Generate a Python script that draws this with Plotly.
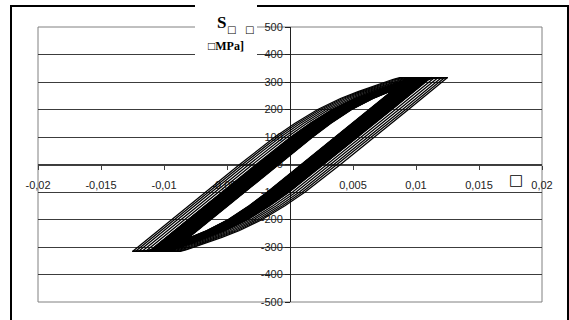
import plotly.graph_objects as go

# ---- data ----
# stress levels shared by every cycle (MPa): loading branch then unloading branch
STRESS_UP = [-316, -200, -100, 0, 100, 150, 200, 240, 265, 285, 300, 310, 316, 316]
STRESS_DOWN = [316, 200, 100, 0, -100, -150, -200, -240, -265, -285, -300, -310, -316, -316]

# strain on the loading branch of each cycle (innermost cycle first)
STRAIN_UP = [
    [-0.0094, -0.00628, -0.00359, -0.0009, 0.0018, 0.00325, 0.0049, 0.0066, 0.0079, 0.0091, 0.0101, 0.0110, 0.0116, 0.0125],
    [-0.00949, -0.00637, -0.00368, -0.00099, 0.00171, 0.00316, 0.00482, 0.00652, 0.00782, 0.00902, 0.01002, 0.01092, 0.01151, 0.01241],
    [-0.00962, -0.0065, -0.00381, -0.00112, 0.00159, 0.00305, 0.00471, 0.00642, 0.00773, 0.00893, 0.00992, 0.0108, 0.0114, 0.01228],
    [-0.00977, -0.00665, -0.00396, -0.00127, 0.00144, 0.00291, 0.00458, 0.00629, 0.0076, 0.0088, 0.00979, 0.01066, 0.01125, 0.01213],
    [-0.00996, -0.00684, -0.00415, -0.00146, 0.00126, 0.00274, 0.00441, 0.00613, 0.00745, 0.00865, 0.00963, 0.0105, 0.01108, 0.01194],
    [-0.01018, -0.00706, -0.00437, -0.00168, 0.00105, 0.00254, 0.00423, 0.00595, 0.00728, 0.00848, 0.00945, 0.0103, 0.01088, 0.01173],
    [-0.01045, -0.00734, -0.00465, -0.00195, 0.00078, 0.00228, 0.00398, 0.00572, 0.00705, 0.00825, 0.00922, 0.01005, 0.01061, 0.01145],
    [-0.0108, -0.00768, -0.00499, -0.0023, 0.00045, 0.00197, 0.00369, 0.00543, 0.00678, 0.00798, 0.00893, 0.00974, 0.0103, 0.01111],
    [-0.0112, -0.00809, -0.00539, -0.0027, 0.00006, 0.0016, 0.00333, 0.00509, 0.00645, 0.00765, 0.00859, 0.00938, 0.00992, 0.0107],
    [-0.01148, -0.00837, -0.00567, -0.00298, -0.00021, 0.00134, 0.00309, 0.00486, 0.00623, 0.00743, 0.00836, 0.00912, 0.00966, 0.01042],
    [-0.01176, -0.00865, -0.00595, -0.00326, -0.00048, 0.00108, 0.00285, 0.00462, 0.006, 0.0072, 0.00812, 0.00887, 0.0094, 0.01014],
    [-0.01204, -0.00893, -0.00623, -0.00354, -0.00075, 0.00083, 0.00261, 0.00439, 0.00578, 0.00698, 0.00789, 0.00862, 0.00914, 0.00987],
    [-0.01228, -0.00918, -0.00648, -0.00378, -0.00099, 0.0006, 0.00239, 0.00418, 0.00558, 0.00678, 0.00768, 0.0084, 0.0089, 0.00962],
    [-0.0125, -0.0094, -0.0067, -0.0040, -0.0012, 0.0004, 0.0022, 0.0040, 0.0054, 0.0066, 0.0075, 0.0082, 0.0087, 0.0094],
]
# strain on the unloading branch of each cycle
STRAIN_DOWN = [
    [0.0094, 0.00628, 0.00359, 0.0009, -0.0018, -0.00325, -0.0049, -0.0066, -0.0079, -0.0091, -0.0101, -0.0110, -0.0116, -0.0125],
    [0.00949, 0.00637, 0.00368, 0.00099, -0.00171, -0.00316, -0.00482, -0.00652, -0.00782, -0.00902, -0.01002, -0.01092, -0.01151, -0.01241],
    [0.00962, 0.0065, 0.00381, 0.00112, -0.00159, -0.00305, -0.00471, -0.00642, -0.00773, -0.00893, -0.00992, -0.0108, -0.0114, -0.01228],
    [0.00977, 0.00665, 0.00396, 0.00127, -0.00144, -0.00291, -0.00458, -0.00629, -0.0076, -0.0088, -0.00979, -0.01066, -0.01125, -0.01213],
    [0.00996, 0.00684, 0.00415, 0.00146, -0.00126, -0.00274, -0.00441, -0.00613, -0.00745, -0.00865, -0.00963, -0.0105, -0.01108, -0.01194],
    [0.01018, 0.00706, 0.00437, 0.00168, -0.00105, -0.00254, -0.00423, -0.00595, -0.00728, -0.00848, -0.00945, -0.0103, -0.01088, -0.01173],
    [0.01045, 0.00734, 0.00465, 0.00195, -0.00078, -0.00228, -0.00398, -0.00572, -0.00705, -0.00825, -0.00922, -0.01005, -0.01061, -0.01145],
    [0.0108, 0.00768, 0.00499, 0.0023, -0.00045, -0.00197, -0.00369, -0.00543, -0.00678, -0.00798, -0.00893, -0.00974, -0.0103, -0.01111],
    [0.0112, 0.00809, 0.00539, 0.0027, -0.00006, -0.0016, -0.00333, -0.00509, -0.00645, -0.00765, -0.00859, -0.00938, -0.00992, -0.0107],
    [0.01148, 0.00837, 0.00567, 0.00298, 0.00021, -0.00134, -0.00309, -0.00486, -0.00623, -0.00743, -0.00836, -0.00912, -0.00966, -0.01042],
    [0.01176, 0.00865, 0.00595, 0.00326, 0.00048, -0.00108, -0.00285, -0.00462, -0.006, -0.0072, -0.00812, -0.00887, -0.0094, -0.01014],
    [0.01204, 0.00893, 0.00623, 0.00354, 0.00075, -0.00083, -0.00261, -0.00439, -0.00578, -0.00698, -0.00789, -0.00862, -0.00914, -0.00987],
    [0.01228, 0.00918, 0.00648, 0.00378, 0.00099, -0.0006, -0.00239, -0.00418, -0.00558, -0.00678, -0.00768, -0.0084, -0.0089, -0.00962],
    [0.0125, 0.0094, 0.0067, 0.0040, 0.0012, -0.0004, -0.0022, -0.0040, -0.0054, -0.0066, -0.0075, -0.0082, -0.0087, -0.0094],
]
CORE_CYCLE = 8  # cycles 0..8 overlap into a solid black band

X_TICKS = [-0.02, -0.015, -0.01, -0.005, 0, 0.005, 0.01, 0.015, 0.02]
X_LABELS = ["-0,02", "-0,015", "-0,01", "-0,005", "0", "0,005", "0,01", "0,015", "0,02"]
Y_TICKS = [-500, -400, -300, -200, -100, 0, 100, 200, 300, 400, 500]
Y_LABELS = ["-500", "-400", "-300", "-200", "-100", "0", "100", "200", "300", "400", "500"]

# ---- figure ----
W, H = 569, 320
L, R, T, B = 38, 27, 27, 18
PW, PH = W - L - R, H - T - B


def px(X):
    return (X - L) / PW


def py(Y):
    return (H - B - Y) / PH


fig = go.Figure()
# solid cores where the many cycles overlap
fig.add_trace(go.Scatter(
    x=STRAIN_UP[0] + STRAIN_UP[CORE_CYCLE][::-1], y=STRESS_UP + STRESS_UP[::-1],
    mode="lines", fill="toself", fillcolor="black", line=dict(color="black", width=1),
    showlegend=False, hoverinfo="skip"))
fig.add_trace(go.Scatter(
    x=STRAIN_DOWN[0] + STRAIN_DOWN[CORE_CYCLE][::-1], y=STRESS_DOWN + STRESS_DOWN[::-1],
    mode="lines", fill="toself", fillcolor="black", line=dict(color="black", width=1),
    showlegend=False, hoverinfo="skip"))
for up, down in zip(STRAIN_UP, STRAIN_DOWN):
    fig.add_trace(go.Scatter(
        x=up + down + up[:1], y=STRESS_UP + STRESS_DOWN + STRESS_UP[:1], mode="lines",
        line=dict(color="black", width=1.3),
        showlegend=False, hoverinfo="skip"))

tickfont = dict(family="Liberation Sans, Arial, sans-serif", size=11, color="#222")
fig.update_layout(
    width=W, height=H, margin=dict(l=L, r=R, t=T, b=B),
    paper_bgcolor="white", plot_bgcolor="white", showlegend=False,
    xaxis=dict(range=[-0.02, 0.02], tickvals=X_TICKS, ticktext=X_LABELS,
               showgrid=False, zeroline=False, showline=True, linecolor="#404040",
               linewidth=1.2, anchor="free", position=0.5, ticks="outside",
               ticklen=4, tickcolor="#404040", tickfont=tickfont,
               ticklabelstandoff=6, layer="below traces"),
    yaxis=dict(range=[-500, 500], tickvals=Y_TICKS, ticktext=Y_LABELS,
               showgrid=True, gridcolor="#3c3c3c", gridwidth=1.4, zeroline=False,
               showline=True, linecolor="#202020", linewidth=1, anchor="free",
               position=0.5, ticks="outside", ticklen=5, tickcolor="#202020",
               tickfont=tickfont, layer="below traces"),
)

# plot area border
fig.add_shape(type="rect", xref="paper", yref="paper", x0=0, x1=1, y0=0, y1=1,
              line=dict(color="#808080", width=1), layer="below")
# outer frame
fig.add_shape(type="rect", xref="paper", yref="paper",
              x0=px(11), x1=px(568), y0=py(330), y1=py(6),
              line=dict(color="black", width=2), layer="above")
# white box behind the axis title
fig.add_shape(type="rect", xref="paper", yref="paper",
              x0=px(195), x1=px(257), y0=py(57), y1=py(-2),
              fillcolor="white", line=dict(width=0), layer="above")

serif = "Liberation Serif, Times New Roman, serif"
fig.add_annotation(xref="paper", yref="paper", x=px(221), y=py(23), text="<b>S</b>",
                   showarrow=False, font=dict(family=serif, size=17, color="black"),
                   xanchor="center", yanchor="middle")
fig.add_annotation(xref="paper", yref="paper", x=px(231), y=py(30), text="□",
                   showarrow=False, font=dict(family="DejaVu Sans", size=10, color="black"),
                   xanchor="center", yanchor="middle")
fig.add_annotation(xref="paper", yref="paper", x=px(249), y=py(30), text="□",
                   showarrow=False, font=dict(family="DejaVu Sans", size=10, color="black"),
                   xanchor="center", yanchor="middle")
fig.add_annotation(xref="paper", yref="paper", x=px(226), y=py(45.5), text="<b>□MPa]</b>",
                   showarrow=False, font=dict(family=serif, size=12, color="black"),
                   xanchor="center", yanchor="middle")
fig.add_annotation(xref="paper", yref="paper", x=px(516), y=py(180), text="<b>□</b>",
                   showarrow=False, font=dict(family="DejaVu Sans", size=15, color="black"),
                   xanchor="center", yanchor="middle")

fig.write_html("out.html", config={"displayModeBar": False},
               post_script="document.body.style.margin='0';")
